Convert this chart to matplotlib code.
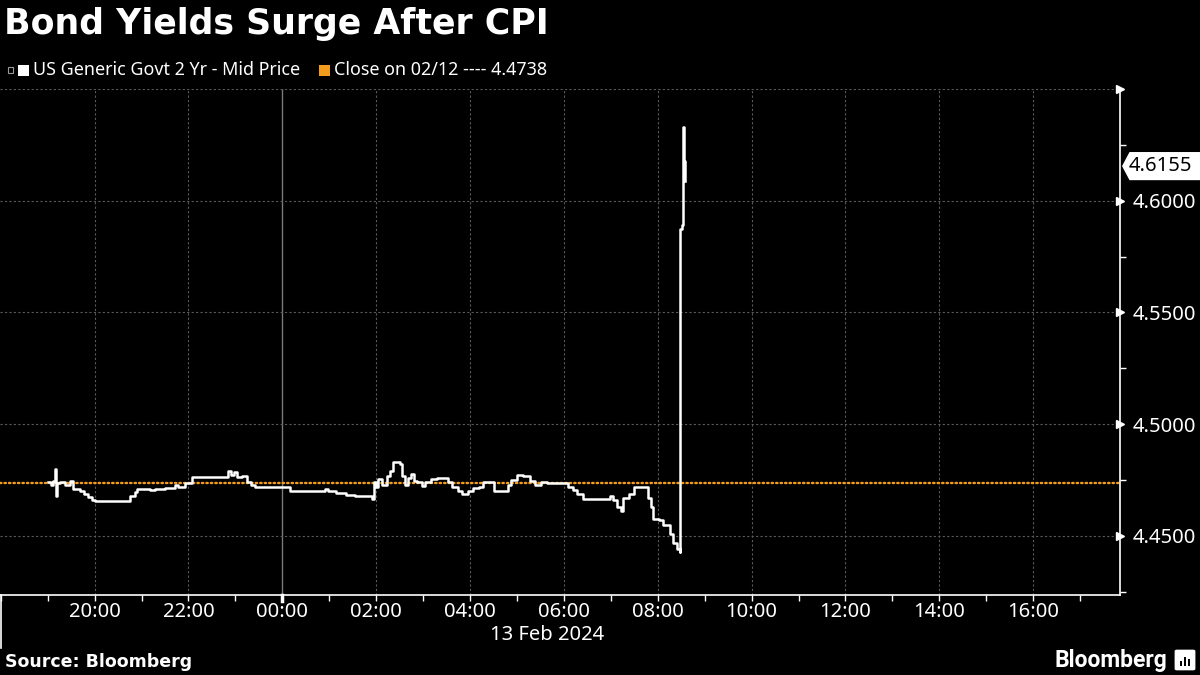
import matplotlib
matplotlib.use("Agg")

import matplotlib.dates as mdates
import matplotlib.pyplot as plt
import matplotlib.transforms as mtransforms
import numpy as np
import pandas as pd
from matplotlib.lines import Line2D
from matplotlib.patches import FancyBboxPatch, Polygon, Rectangle


TITLE = "Bond Yields Surge After CPI"
SERIES_LABEL = "US Generic Govt 2 Yr - Mid Price"
CLOSE_LABEL = "Close on 02/12 ---- 4.4738"
SOURCE = "Source: Bloomberg"
DATE_LABEL = "13 Feb 2024"

PREV_CLOSE = 4.4738
LAST_PRICE = 4.6155

# 2Y yield, 12 Feb evening session
FEB12_TIMES = [
    "19:00", "19:04", "19:07", "19:09", "19:10", "19:12", "19:16", "19:22",
    "19:29", "19:32", "19:41", "19:46", "19:52", "19:57", "20:00", "20:45",
    "20:51", "20:54", "21:11", "21:17", "21:30", "21:43", "21:47", "21:55",
    "22:05", "22:51", "22:54", "22:58", "23:02", "23:08", "23:15", "23:20",
    "23:25",
]
FEB12_VALUES = [
    4.4740, 4.4728, 4.4745, 4.4800, 4.4680, 4.4735, 4.4740, 4.4728,
    4.4745, 4.4710, 4.4700, 4.4690, 4.4675, 4.4660, 4.4655, 4.4680,
    4.4695, 4.4710, 4.4705, 4.4710, 4.4715, 4.4730, 4.4720, 4.4735,
    4.4765, 4.4790, 4.4775, 4.4785, 4.4765, 4.4770, 4.4740, 4.4730,
    4.4720,
]

# 13 Feb, up to and just after the CPI print
FEB13_TIMES = [
    "00:00", "00:10", "00:55", "00:59", "01:08", "01:21", "01:33", "01:55",
    "01:57", "02:00", "02:02", "02:07", "02:14", "02:18", "02:22", "02:30",
    "02:33", "02:37", "02:41", "02:44", "02:48", "02:52", "02:58", "03:03",
    "03:10", "03:18", "03:32", "03:37", "03:45", "03:50", "03:58", "04:04",
    "04:12", "04:17", "04:30", "04:48", "04:52", "05:00", "05:08", "05:17",
    "05:23", "05:31", "05:39", "06:05", "06:11", "06:17", "06:25", "06:59",
    "07:03", "07:08", "07:13", "07:16", "07:23", "07:29", "07:47", "07:51",
    "07:54", "08:02", "08:07", "08:16", "08:19", "08:25", "08:28", "08:29",
    "08:31", "08:32", "08:33", "08:34", "08:35",
]
FEB13_VALUES = [
    4.4720, 4.4700, 4.4710, 4.4700, 4.4692, 4.4685, 4.4680, 4.4665,
    4.4740, 4.4720, 4.4755, 4.4730, 4.4770, 4.4790, 4.4830, 4.4822,
    4.4770, 4.4730, 4.4760, 4.4778, 4.4745, 4.4740, 4.4725, 4.4740,
    4.4755, 4.4760, 4.4740, 4.4720, 4.4700, 4.4690, 4.4700, 4.4715,
    4.4720, 4.4740, 4.4700, 4.4730, 4.4750, 4.4775, 4.4770, 4.4745,
    4.4730, 4.4740, 4.4738, 4.4720, 4.4705, 4.4690, 4.4667, 4.4680,
    4.4660, 4.4630, 4.4612, 4.4670, 4.4690, 4.4719, 4.4670, 4.4630,
    4.4578, 4.4570, 4.4550, 4.4510, 4.4470, 4.4440, 4.4428, 4.5875,
    4.5890, 4.6330, 4.6280, 4.6180, 4.6090,
]

Y_TICKS = [4.45, 4.50, 4.55, 4.60]
Y_TOP = 4.65
Y_MINOR = [4.425, 4.475, 4.525, 4.575, 4.625]
X_START = "2024-02-12 17:59"
X_END = "2024-02-13 17:51"

BG = "#000000"
WHITE = "#ffffff"
ORANGE = "#f39c1e"
GRID = "#5a5a5a"
FONT = ["Noto Sans", "DejaVu Sans"]
BOLD = ["DejaVu Sans"]


def to_times(day, hhmm):
    return pd.to_datetime([f"{day} {t}" for t in hhmm])


times = to_times("2024-02-12", FEB12_TIMES).append(to_times("2024-02-13", FEB13_TIMES))
values = np.array(FEB12_VALUES + FEB13_VALUES)

plt.rcParams["font.family"] = FONT
fig = plt.figure(figsize=(12, 6.75), dpi=100, facecolor=BG)
ax = fig.add_axes([0.0, 1 - 595 / 675, 1120 / 1200, (595 - 89) / 675], facecolor=BG)

x0, x1 = pd.Timestamp(X_START), pd.Timestamp(X_END)
ax.set_xlim(x0, x1)
ax.set_ylim(4.4236, Y_TOP)

# grid
major_x = pd.date_range("2024-02-12 20:00", "2024-02-13 16:00", freq="2h")
for t in major_x:
    if t.hour == 0:
        ax.axvline(t, color="#7a7a7a", lw=1.0, zorder=1)
    else:
        ax.axvline(t, color=GRID, lw=0.8, ls=(0, (2, 2)), zorder=1)
for y in Y_TICKS + [Y_TOP]:
    ax.axhline(y, color=GRID, lw=0.8, ls=(0, (2, 2)), zorder=1)

# previous close and the series
ax.axhline(PREV_CLOSE, color=ORANGE, lw=1.7, ls=(0, (0.6, 1.3)), dash_capstyle="round", zorder=2)
ax.step(times, values, where="post", color=WHITE, lw=1.8, zorder=3)

# spines
for side in ["top", "left"]:
    ax.spines[side].set_visible(False)
ax.spines["bottom"].set_color(WHITE)
ax.spines["right"].set_color(WHITE)
ax.spines["bottom"].set_linewidth(1.2)
ax.spines["right"].set_linewidth(1.2)

# x axis
ax.set_xticks(major_x)
ax.xaxis.set_major_formatter(mdates.DateFormatter("%H:%M"))
ax.xaxis.set_minor_locator(mdates.HourLocator())
ax.tick_params(axis="x", which="both", colors=WHITE, length=4, width=1, direction="out",
               labelsize=14.5, pad=1)

# y axis on the right, ticks drawn as little flags
ax.yaxis.tick_right()
ax.set_yticks(Y_TICKS)
ax.set_yticklabels([f"{v:.4f}" for v in Y_TICKS])
ax.set_yticks(Y_MINOR, minor=True)
ax.tick_params(axis="y", which="major", colors=WHITE, length=0, labelsize=14.5, pad=9)
ax.tick_params(axis="y", which="minor", colors=WHITE, length=4, width=1, direction="out")

trans_y = mtransforms.blended_transform_factory(ax.transAxes, ax.transData)
ax.plot([1.0] * (len(Y_TICKS) + 1), Y_TICKS + [Y_TOP], ls="none", marker=">", ms=6,
        color=WHITE, transform=trans_y, clip_on=False, zorder=5)

# last value tag
half = 0.0063
tag = Polygon(
    [(1.0018, LAST_PRICE), (1.0085, LAST_PRICE + half), (1.08, LAST_PRICE + half),
     (1.08, LAST_PRICE - half), (1.0085, LAST_PRICE - half)],
    closed=True, facecolor=WHITE, edgecolor="none", transform=trans_y, clip_on=False, zorder=6,
)
ax.add_patch(tag)
ax.text(1129 / 1120, LAST_PRICE, f"{LAST_PRICE:.4f}", transform=trans_y, color="black",
        fontsize=14.5, ha="left", va="center", zorder=7)

# day separators below the axis
fig.add_artist(Line2D([0.0008, 0.0008], [1 - 595 / 675, 1 - 648 / 675], color=WHITE, lw=1.2))
midnight = ax.transData.transform((mdates.date2num(pd.Timestamp("2024-02-13 00:00")), 4.4236))
mx = fig.transFigure.inverted().transform(midnight)[0]
fig.add_artist(Line2D([mx, mx], [1 - 595 / 675, 1 - 601 / 675], color=WHITE, lw=2.5))
fig.text(547 / 1200, 1 - 635 / 675, DATE_LABEL, color=WHITE, fontsize=14.5, ha="center", va="center")

# title and legend
fig.text(4 / 1200, 1 - 24 / 675, TITLE, color=WHITE, fontsize=25, fontweight="bold",
         family=BOLD, ha="left", va="center")
fig.add_artist(Rectangle((8 / 1200, 1 - 73 / 675), 5 / 1200, 6 / 675, facecolor="none",
                         edgecolor="#9a9a9a", lw=0.8))
fig.add_artist(Rectangle((18 / 1200, 1 - 76 / 675), 11 / 1200, 11 / 675, facecolor=WHITE, edgecolor="none"))
fig.text(33 / 1200, 1 - 70 / 675, SERIES_LABEL, color=WHITE, fontsize=12.9, ha="left", va="center")
fig.add_artist(Rectangle((319 / 1200, 1 - 76 / 675), 11 / 1200, 11 / 675, facecolor=ORANGE, edgecolor="none"))
fig.text(334 / 1200, 1 - 70 / 675, CLOSE_LABEL, color=WHITE, fontsize=12.9, ha="left", va="center")

# footer
fig.text(5 / 1200, 1 - 662 / 675, SOURCE, color=WHITE, fontsize=12.5, fontweight="bold",
         family=BOLD, ha="left", va="center")
fig.text(1167 / 1200, 1 - 661 / 675, "Bloomberg", color=WHITE, fontsize=16.5, fontweight="bold",
         family=["Roboto", "DejaVu Sans"], ha="right", va="center")
fig.add_artist(FancyBboxPatch((1177 / 1200, 1 - 669 / 675), 16 / 1200, 18 / 675,
                              boxstyle="round,pad=0.002", facecolor=WHITE, edgecolor="none"))
for i, h in enumerate([5, 9, 7]):
    fig.add_artist(Rectangle(((1180 + i * 4) / 1200, 1 - 666 / 675), 2 / 1200, h / 675,
                             facecolor=BG, edgecolor="none"))

fig.savefig("out.png", dpi=100, facecolor=BG)
